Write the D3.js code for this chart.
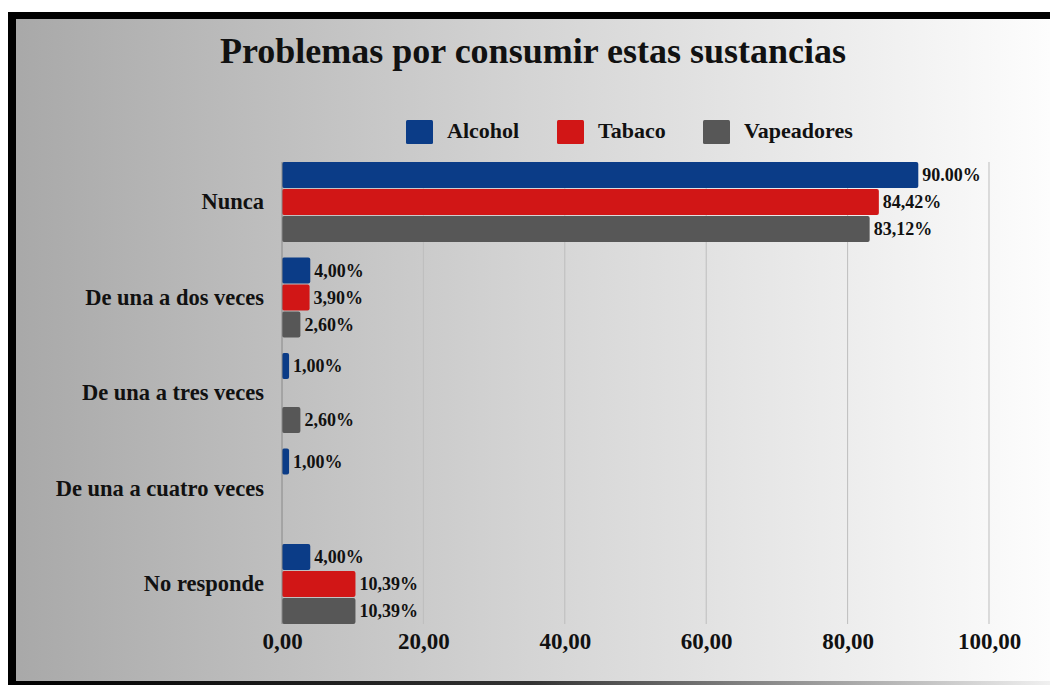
<!DOCTYPE html>
<html>
<head>
<meta charset="utf-8">
<script src="https://cdn.jsdelivr.net/npm/d3@7"></script>
<style>
  body { margin: 0; background: #fff; }
  text { font-family: "Liberation Serif", "Times New Roman", serif; font-weight: bold; fill: #111; }
</style>
</head>
<body>
<div id="chart"></div>
<script>
// data
var categories = ["Nunca", "De una a dos veces", "De una a tres veces", "De una a cuatro veces", "No responde"];
var series = ["Alcohol", "Tabaco", "Vapeadores"];
var alcohol = [90.00, 4.00, 1.00, 1.00, 4.00];
var tabaco = [84.42, 3.90, 0, 0, 10.39];
var vapeadores = [83.12, 2.60, 2.60, 0, 10.39];
var alcoholLabels = ["90.00%", "4,00%", "1,00%", "1,00%", "4,00%"];
var tabacoLabels = ["84,42%", "3,90%", "", "", "10,39%"];
var vapeadoresLabels = ["83,12%", "2,60%", "2,60%", "", "10,39%"];
var xTicks = [0, 20, 40, 60, 80, 100];

var colors = { "Alcohol": "#0b3c87", "Tabaco": "#d11616", "Vapeadores": "#575757" };

var svgWidth = 1050;
var svgHeight = 685;

var svg = d3.select("#chart")
    .append("svg")
    .attr("width", svgWidth)
    .attr("height", svgHeight);

// background gradient + frame
var defs = svg.append("defs");
var bg = defs.append("linearGradient").attr("id", "bg").attr("x1", "0").attr("x2", "1").attr("y1", "0").attr("y2", "0");
bg.append("stop").attr("offset", "0").attr("stop-color", "#a8a8a8");
bg.append("stop").attr("offset", "0.5").attr("stop-color", "#d4d4d4");
bg.append("stop").attr("offset", "1").attr("stop-color", "#fdfdfd");
var bottomGrad = defs.append("linearGradient").attr("id", "bottomGrad").attr("x1", "0").attr("x2", "1");
bottomGrad.append("stop").attr("offset", "0").attr("stop-color", "#000");
bottomGrad.append("stop").attr("offset", "0.5").attr("stop-color", "#333");
bottomGrad.append("stop").attr("offset", "1").attr("stop-color", "#f0f0f0");

svg.append("rect").attr("x", 8).attr("y", 12).attr("width", svgWidth - 8).attr("height", svgHeight - 12).attr("fill", "url(#bg)");
svg.append("rect").attr("x", 8).attr("y", 12).attr("width", svgWidth - 8).attr("height", 7).attr("fill", "#000");
svg.append("rect").attr("x", 8).attr("y", 12).attr("width", 8).attr("height", svgHeight - 12).attr("fill", "#000");
svg.append("rect").attr("x", 8).attr("y", 681).attr("width", svgWidth - 8).attr("height", 4).attr("fill", "url(#bottomGrad)");

// title
svg.append("text")
    .attr("x", 533)
    .attr("y", 63)
    .attr("text-anchor", "middle")
    .attr("font-size", "36px")
    .text("Problemas por consumir estas sustancias");

// scales
var plotLeft = 282, plotRight = 989, plotTop = 162, plotBottom = 624;

var xScale = d3.scaleLinear()
    .domain([0, 100])
    .range([plotLeft, plotRight]);

var yScale = d3.scaleBand()
    .domain(categories)
    .range([plotTop, plotBottom])
    .paddingInner(0.162)
    .paddingOuter(0);

var ySub = d3.scaleBand()
    .domain(series)
    .range([0, yScale.bandwidth()])
    .paddingInner(0.04);

// gridlines
svg.append("g")
    .selectAll("line")
    .data(xTicks.slice(1))
    .enter()
    .append("line")
    .attr("x1", d => xScale(d))
    .attr("x2", d => xScale(d))
    .attr("y1", plotTop)
    .attr("y2", plotBottom)
    .attr("stroke", "#bdbdbd")
    .attr("stroke-width", 1);

// legend
var legendX = [406, 557, 703];
var legend = svg.selectAll(".legend")
    .data(series)
    .enter()
    .append("g")
    .attr("class", "legend")
    .attr("transform", (d, i) => `translate(${legendX[i]}, 120)`);
legend.append("rect")
    .attr("width", 27)
    .attr("height", 24)
    .attr("rx", 1.5)
    .attr("fill", d => colors[d]);
legend.append("text")
    .attr("x", 41)
    .attr("y", 18)
    .attr("font-size", "22px")
    .text(d => d);

// x axis labels
var xAxis = d3.axisBottom(xScale)
    .tickValues(xTicks)
    .tickSize(0)
    .tickPadding(0)
    .tickFormat(d => d3.format(".2f")(d).replace(".", ","));
var xg = svg.append("g")
    .attr("transform", `translate(0, 633)`)
    .call(xAxis);
xg.select(".domain").remove();
xg.attr("font-family", null).attr("font-size", null);
xg.selectAll("text")
    .attr("font-size", "23px")
    .attr("fill", "#111")
    .attr("dy", "0.71em");

// y axis labels
var yAxis = d3.axisLeft(yScale).tickSize(0).tickPadding(18);
var yg = svg.append("g")
    .attr("transform", `translate(${plotLeft}, 0)`)
    .call(yAxis);
yg.select(".domain").remove();
yg.attr("font-family", null).attr("font-size", null);
yg.selectAll("text")
    .attr("font-size", "22.5px")
    .attr("fill", "#111");

// bars
var rows = categories.map(function(c, i) {
    return [
        { cat: c, s: "Alcohol", v: alcohol[i], label: alcoholLabels[i] },
        { cat: c, s: "Tabaco", v: tabaco[i], label: tabacoLabels[i] },
        { cat: c, s: "Vapeadores", v: vapeadores[i], label: vapeadoresLabels[i] }
    ];
});

var groups = svg.selectAll(".group")
    .data(rows)
    .enter()
    .append("g")
    .attr("class", "group")
    .attr("transform", (d, i) => `translate(0, ${yScale(categories[i])})`);

groups.selectAll("rect")
    .data(d => d.filter(e => e.v > 0))
    .enter()
    .append("rect")
    .attr("x", xScale(0))
    .attr("y", d => ySub(d.s))
    .attr("width", d => xScale(d.v) - xScale(0))
    .attr("height", ySub.bandwidth())
    .attr("rx", 2)
    .attr("fill", d => colors[d.s]);

groups.selectAll(".val")
    .data(d => d.filter(e => e.v > 0))
    .enter()
    .append("text")
    .attr("class", "val")
    .attr("x", d => xScale(d.v) + 4)
    .attr("y", d => ySub(d.s) + ySub.bandwidth() / 2)
    .attr("dy", "0.35em")
    .attr("font-size", "18px")
    .text(d => d.label);

// y axis line
svg.append("line")
    .attr("x1", plotLeft)
    .attr("x2", plotLeft)
    .attr("y1", plotTop)
    .attr("y2", plotBottom)
    .attr("stroke", "#888")
    .attr("stroke-width", 1);
</script>
</body>
</html>
